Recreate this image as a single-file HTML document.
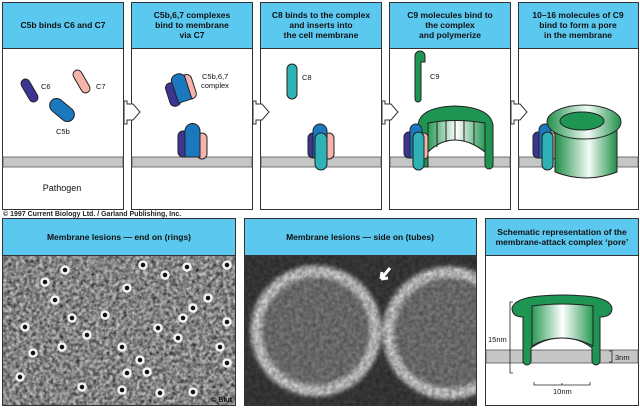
<!DOCTYPE html>
<html><head><meta charset="utf-8"><style>
body{margin:0;background:#fff;}
svg{display:block;font-family:"Liberation Sans",Arial,sans-serif;}
</style></head><body>
<svg width="640" height="408" viewBox="0 0 640 408" xmlns="http://www.w3.org/2000/svg">
<defs>
<linearGradient id="gcyl" x1="0" x2="1" y1="0" y2="0">
<stop offset="0" stop-color="#1f8f4a"/><stop offset="0.55" stop-color="#f2fbf4"/><stop offset="1" stop-color="#1f8f4a"/>
</linearGradient>
<linearGradient id="gin" x1="0" x2="1">
<stop offset="0" stop-color="#2a9a55"/><stop offset="0.5" stop-color="#ffffff"/><stop offset="1" stop-color="#2a9a55"/>
</linearGradient>
<filter id="bl2"><feGaussianBlur stdDeviation="2"/></filter>
<filter id="tex" x="0" y="0" width="100%" height="100%">
<feTurbulence type="fractalNoise" baseFrequency="0.25" numOctaves="2" seed="4"/>
<feColorMatrix type="matrix" values="0 0 0 0 0  0 0 0 0 0  0 0 0 0 0  1.1 0 0 0 -0.2"/>
<feComposite in2="SourceGraphic" operator="in"/>
</filter>
<filter id="tex2" x="0" y="0" width="100%" height="100%">
<feTurbulence type="fractalNoise" baseFrequency="0.3" numOctaves="2" seed="9"/>
<feColorMatrix type="matrix" values="0 0 0 0 1  0 0 0 0 1  0 0 0 0 1  1.2 0 0 0 -0.45"/>
<feComposite in2="SourceGraphic" operator="in"/>
</filter>
</defs>

<!-- top panels -->
<g stroke="#333" stroke-width="1">
<rect x="2.5" y="2.5" width="121" height="207" fill="#fff"/>
<rect x="131.5" y="2.5" width="121" height="207" fill="#fff"/>
<rect x="260.5" y="2.5" width="121" height="207" fill="#fff"/>
<rect x="389.5" y="2.5" width="121" height="207" fill="#fff"/>
<rect x="518.5" y="2.5" width="120" height="207" fill="#fff"/>
</g>
<g fill="#5bc8f0" stroke="#333">
<rect x="2.5" y="2.5" width="121" height="46"/>
<rect x="131.5" y="2.5" width="121" height="46"/>
<rect x="260.5" y="2.5" width="121" height="46"/>
<rect x="389.5" y="2.5" width="121" height="46"/>
<rect x="518.5" y="2.5" width="120" height="46"/>
</g>
<g font-size="8.5" font-weight="bold" fill="#111" text-anchor="middle">
<text x="63" y="28">C5b binds C6 and C7</text>
<text x="192" y="18">C5b,6,7 complexes</text><text x="192" y="28">bind to membrane</text><text x="192" y="38">via C7</text>
<text x="321" y="18">C8 binds to the complex</text><text x="321" y="28">and inserts into</text><text x="321" y="38">the cell membrane</text>
<text x="450" y="18">C9 molecules bind to</text><text x="450" y="28">the complex</text><text x="450" y="38">and polymerize</text>
<text x="578" y="18">10–16 molecules of C9</text><text x="578" y="28">bind to form a pore</text><text x="578" y="38">in the membrane</text>
</g>
<g fill="#c6c6c6" stroke="#555" stroke-width="0.8">
<rect x="3" y="157" width="120" height="10"/>
<rect x="132" y="157" width="120" height="10"/>
<rect x="261" y="157" width="120" height="10"/>
<rect x="390" y="157" width="120" height="10"/>
<rect x="519" y="157" width="119" height="10"/>
</g>
<text x="62" y="191" font-size="9" text-anchor="middle" fill="#111">Pathogen</text>
<g fill="#fff" stroke="#333" stroke-width="1">
<path d="M124 101 L127 101 L127 104 L133 104 L140 112 L133 120 L127 120 L127 124 L124 124 Z"/>
<path d="M253 101 L256 101 L256 104 L262 104 L269 112 L262 120 L256 120 L256 124 L253 124 Z"/>
<path d="M382 101 L385 101 L385 104 L391 104 L398 112 L391 120 L385 120 L385 124 L382 124 Z"/>
<path d="M511 101 L514 101 L514 104 L520 104 L527 112 L520 120 L514 120 L514 124 L511 124 Z"/>
</g>
<g stroke="#222" stroke-width="1">
<rect x="25" y="78" width="9" height="25" rx="4.5" fill="#3d3592" transform="rotate(-30 29.5 90.5)"/>
<rect x="77" y="69" width="9" height="25" rx="4.5" fill="#f5b3ac" transform="rotate(-30 81.5 81.5)"/>
<rect x="55" y="96" width="14" height="28" rx="7" fill="#1b78bf" transform="rotate(-50 62 110)"/>
</g>
<g font-size="7.5" fill="#111"><text x="41" y="89">C6</text><text x="96" y="89">C7</text><text x="56" y="134">C5b</text>
<text x="202" y="79">C5b,6,7</text><text x="201" y="88">complex</text><text x="302" y="80">C8</text><text x="430" y="79">C9</text></g>
<g stroke="#222" stroke-width="1" transform="rotate(-18 180 88)">
<rect x="166" y="80" width="11" height="24" rx="5" fill="#3d3592"/>
<rect x="184" y="77" width="10" height="25" rx="5" fill="#f5b3ac"/>
<path d="M174 102 V78 a8 8 0 0 1 14 0 V102 Z" fill="#1b78bf"/>
</g>
<g stroke="#222" stroke-width="1">
<rect x="178" y="131" width="11" height="26" rx="5" fill="#3d3592"/>
<rect x="197" y="133" width="10" height="26" rx="5" fill="#f5b3ac"/>
<path d="M185 157 V131 a7.5 7.5 0 0 1 15 0 V157 Z" fill="#1b78bf"/>
</g>
<g stroke="#222" stroke-width="1">
<rect x="287" y="64" width="10" height="35" rx="5" fill="#2fb2b5"/>
<rect x="308" y="133" width="11" height="25" rx="5" fill="#3d3592"/>
<rect x="324" y="133" width="10" height="26" rx="5" fill="#f5b3ac"/>
<path d="M313 158 V131 a7 7 0 0 1 14 0 V158 Z" fill="#1b78bf"/>
<rect x="315" y="133" width="12" height="37" rx="6" fill="#2fb2b5"/>
</g>
<g stroke="#222" stroke-width="1">
<path d="M415 56 a5 5 0 0 1 10 0 v6 h-4 v37 a3 3 0 0 1 -6 0 z" fill="#1e9552"/>
<path d="M418 167 V125 Q420 107 455 106 Q490 107 493 125 V165 a4 4 0 0 1 -8 0 V152 Q470 140 455 140 Q440 140 428 152 V167 Z" fill="#1e9552"/>
<path d="M428 165 V123 Q455 118 485 123 V152 Q470 140 455 140 Q440 140 428 152Z" fill="url(#gin)"/>
<g fill="none"><path d="M437 122 V147 M446 120 V142 M455 120 V140 M464 120 V141 M474 121 V145"/></g>
<rect x="404" y="132" width="11" height="26" rx="5" fill="#3d3592"/>
<path d="M410 158 V130 a6 6 0 0 1 12 0 V158Z" fill="#1b78bf"/>
<rect x="419" y="133" width="9" height="26" rx="4" fill="#f5b3ac"/>
<rect x="413" y="132" width="11" height="38" rx="5.5" fill="#2fb2b5"/>
</g>
<g stroke="#222" stroke-width="1">
<rect x="533" y="132" width="11" height="26" rx="5" fill="#3d3592"/>
<path d="M539 158 V130 a6 6 0 0 1 12 0 V158Z" fill="#1b78bf"/>
<rect x="548" y="133" width="9" height="26" rx="4" fill="#f5b3ac"/>
<rect x="542" y="132" width="11" height="38" rx="5.5" fill="#2fb2b5"/>
<path d="M555 130 V172 Q586 184 617 172 V130 Z" fill="url(#gcyl)"/>
<ellipse cx="584" cy="122" rx="37" ry="17" fill="url(#gcyl)"/>
<ellipse cx="582" cy="121" rx="22" ry="9" fill="#1e9552"/>
</g>
<text x="3" y="216" font-size="7" font-weight="bold" fill="#222">© 1997 Current Biology Ltd. / Garland Publishing, Inc.</text>

<rect x="2.5" y="218.5" width="233" height="187" fill="#fff" stroke="#333"/>
<rect x="244.5" y="218.5" width="232" height="187" fill="#fff" stroke="#333"/>
<rect x="485.5" y="218.5" width="153" height="187" fill="#fff" stroke="#333"/>
<g fill="#5bc8f0" stroke="#333">
<rect x="2.5" y="218.5" width="233" height="37"/><rect x="244.5" y="218.5" width="232" height="37"/><rect x="485.5" y="218.5" width="153" height="37"/>
</g>
<g font-size="8.5" font-weight="bold" fill="#111" text-anchor="middle">
<text x="119" y="240">Membrane lesions — end on (rings)</text>
<text x="360" y="240">Membrane lesions — side on (tubes)</text>
<text x="562" y="235">Schematic representation of the</text>
<text x="562" y="245">membrane-attack complex ‘pore’</text>
</g>
<!-- micrograph 1 -->
<rect x="3" y="256" width="232" height="149" fill="#a4a4a4"/>
<rect x="3" y="256" width="232" height="149" fill="#000" filter="url(#tex)"/>
<rect x="3" y="256" width="232" height="149" fill="#fff" filter="url(#tex2)"/>
<g fill="#111" stroke="#f4f4f4" stroke-width="2.5">
<circle cx="65" cy="270" r="3.5"/><circle cx="45" cy="282" r="3.5"/><circle cx="127" cy="288" r="3.5"/><circle cx="143" cy="265" r="3.5"/><circle cx="165" cy="275" r="3.5"/><circle cx="187" cy="267" r="3.5"/><circle cx="227" cy="265" r="3.5"/><circle cx="55" cy="300" r="3.5"/><circle cx="208" cy="298" r="3.5"/><circle cx="193" cy="308" r="3.5"/><circle cx="72" cy="318" r="3.5"/><circle cx="105" cy="315" r="3.5"/><circle cx="183" cy="318" r="3.5"/><circle cx="25" cy="327" r="3.5"/><circle cx="158" cy="328" r="3.5"/><circle cx="227" cy="322" r="3.5"/><circle cx="87" cy="335" r="3.5"/><circle cx="62" cy="347" r="3.5"/><circle cx="122" cy="347" r="3.5"/><circle cx="178" cy="338" r="3.5"/><circle cx="220" cy="347" r="3.5"/><circle cx="33" cy="353" r="3.5"/><circle cx="140" cy="360" r="3.5"/><circle cx="227" cy="363" r="3.5"/><circle cx="20" cy="377" r="3.5"/><circle cx="127" cy="373" r="3.5"/><circle cx="147" cy="372" r="3.5"/><circle cx="82" cy="387" r="3.5"/><circle cx="122" cy="390" r="3.5"/><circle cx="160" cy="393" r="3.5"/><circle cx="193" cy="392" r="3.5"/>
</g>
<text x="232" y="402" font-size="7" text-anchor="end" fill="#111" font-weight="bold">© Blut</text>
<!-- micrograph 2 -->
<svg x="245" y="256" width="231" height="149" viewBox="245 256 231 149">
<rect x="245" y="256" width="231" height="149" fill="#3e3e3e"/>
<g filter="url(#bl2)">
<circle cx="316" cy="331" r="60" fill="#7c7c7c" stroke="#d8d8d8" stroke-width="11"/>
<circle cx="449" cy="333" r="61" fill="#7c7c7c" stroke="#d8d8d8" stroke-width="11"/>
</g>
<rect x="245" y="256" width="231" height="149" fill="#000" filter="url(#tex)" opacity="0.5"/>
<path d="M390 268 L381 279 M381 279 l1 -7 M381 279 l7 -1" stroke="#fff" stroke-width="3" fill="none"/>
</svg>
<!-- schematic -->
<rect x="486" y="350" width="152" height="13" fill="#c6c6c6" stroke="#555" stroke-width="0.8"/>
<path d="M523 363 V317 Q512 317 512 308 Q515 298 540 296 Q562 294 585 296 Q610 298 612 308 Q612 317 600 317 V361 a4 4 0 0 1 -8 0 V348 Q580 338 562 338 Q545 338 531 348 V361 a4 4 0 0 1 -8 0Z" fill="#1e9552" stroke="#222"/>
<path d="M532 346 V306 Q562 302 593 306 V346 Q578 338 562 338 Q545 338 532 346Z" fill="url(#gin)" stroke="#222"/>
<g stroke="#222" fill="none" stroke-width="0.8">
<path d="M513 302 h-3 V373 h3"/><path d="M609 351 h3 V362 h-3"/><path d="M534 382 V385 H590 V382 M562 385 v-2"/>
</g>
<g font-size="7.5" fill="#111"><text x="488" y="342">15nm</text><text x="615" y="360">3nm</text><text x="553" y="394">10nm</text></g>
</svg>
</body></html>
